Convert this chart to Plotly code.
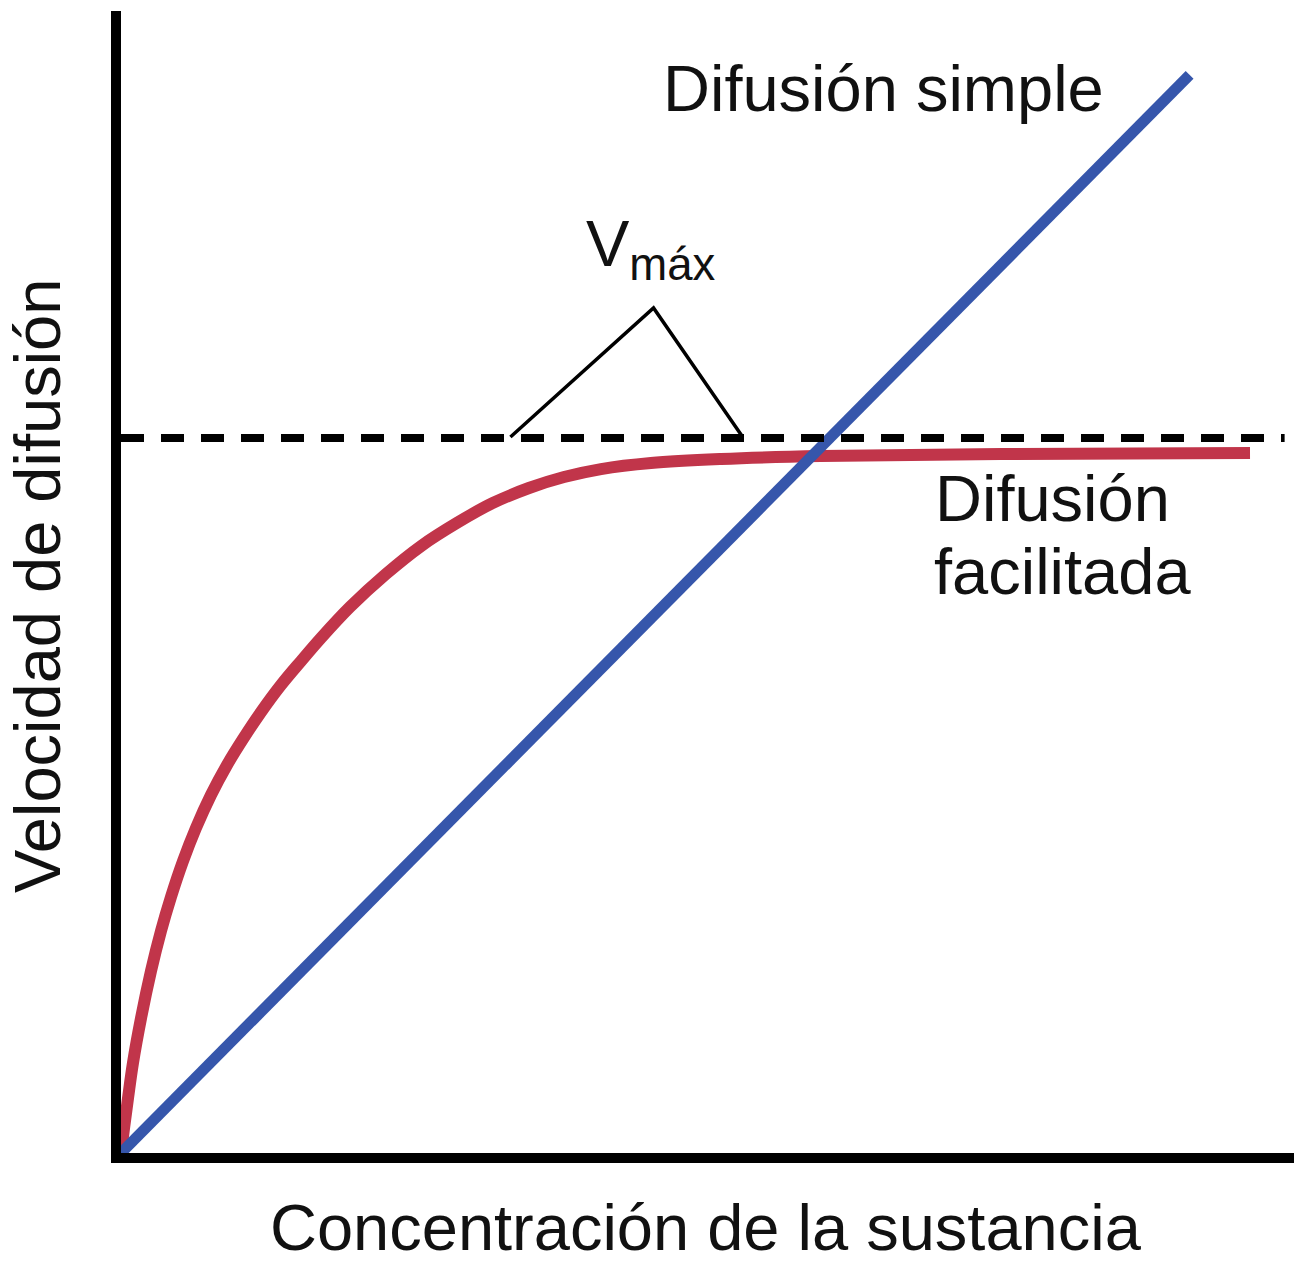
import plotly.graph_objects as go

# Concentración (0-100) vs velocidad (0-100)
conc_simple = [0, 91.1]
vel_simple = [0, 94.4]

conc_facil = [0, 0.26, 0.60, 1.02, 1.71, 2.56, 3.41, 4.26, 5.29, 6.39, 7.67,
              9.04, 10.40, 11.94, 13.64, 15.35, 17.05, 19.52, 22.59, 25.58,
              28.64, 31.71, 34.78, 37.77, 40.92, 45.18, 51.15, 59.68, 75.02,
              96.25]
vel_facil = [0, 2.19, 4.82, 7.88, 11.82, 15.94, 19.44, 22.42, 25.57, 28.46,
             31.35, 33.98, 36.25, 38.62, 40.98, 43.08, 45.10, 47.81, 50.70,
             53.15, 55.17, 56.92, 58.23, 59.19, 59.89, 60.42, 60.77, 61.03,
             61.21, 61.30]

vmax = 62.6
conc_vmax = [0, 99.2]

bracket_x = [33.2, 45.4, 53.0]
bracket_y = [62.7, 74.0, 62.7]

FONT = "Liberation Sans, Arial, Helvetica, sans-serif"
RED = "#c1354a"
BLUE = "#3656ab"

fig = go.Figure()

fig.add_trace(
    go.Scatter(
        x=conc_facil,
        y=vel_facil,
        mode="lines",
        line=dict(color=RED, width=12, shape="spline", smoothing=1.0),
        hoverinfo="skip",
    )
)

fig.add_trace(
    go.Scatter(
        x=conc_simple,
        y=vel_simple,
        mode="lines",
        line=dict(color=BLUE, width=11),
        hoverinfo="skip",
    )
)

fig.add_trace(
    go.Scatter(
        x=conc_vmax,
        y=[vmax, vmax],
        mode="lines",
        line=dict(color="black", width=8, dash="23px,17px"),
        hoverinfo="skip",
    )
)

fig.add_trace(
    go.Scatter(
        x=bracket_x,
        y=bracket_y,
        mode="lines",
        line=dict(color="black", width=3.5),
        hoverinfo="skip",
    )
)

text_font = dict(family=FONT, size=65, color="#111111")

fig.add_annotation(
    x=65.0, y=93.2, text="Difusión simple",
    showarrow=False, xanchor="center", yanchor="middle", font=text_font,
)
fig.add_annotation(
    x=39.5, y=79.2, text="V<sub>máx</sub>",
    showarrow=False, xanchor="left", yanchor="middle", font=text_font,
)
fig.add_annotation(
    x=69.2, y=57.3, text="Difusión",
    showarrow=False, xanchor="left", yanchor="middle", font=text_font,
)
fig.add_annotation(
    x=69.1, y=50.9, text="facilitada",
    showarrow=False, xanchor="left", yanchor="middle", font=text_font,
)
fig.add_annotation(
    x=0.4987, y=-0.0648, xref="paper", yref="paper",
    text="Concentración de la sustancia",
    showarrow=False, xanchor="center", yanchor="middle", font=text_font,
)
fig.add_annotation(
    x=-0.0708, y=0.4965, xref="paper", yref="paper",
    text="Velocidad de difusión", textangle=-90,
    showarrow=False, xanchor="center", yanchor="middle", font=text_font,
)

axis_style = dict(
    range=[0, 100],
    showgrid=False,
    zeroline=False,
    showticklabels=False,
    ticks="",
    showline=True,
    linecolor="black",
    linewidth=10,
    fixedrange=True,
)

fig.update_layout(
    width=1294,
    height=1264,
    margin=dict(l=121, r=0, t=11, b=111),
    paper_bgcolor="white",
    plot_bgcolor="white",
    showlegend=False,
    xaxis=axis_style,
    yaxis=axis_style,
)

fig.write_html(
    "out.html",
    config={"displayModeBar": False},
    post_script="document.body.style.margin='0';"
                "document.body.style.overflow='hidden';",
)
